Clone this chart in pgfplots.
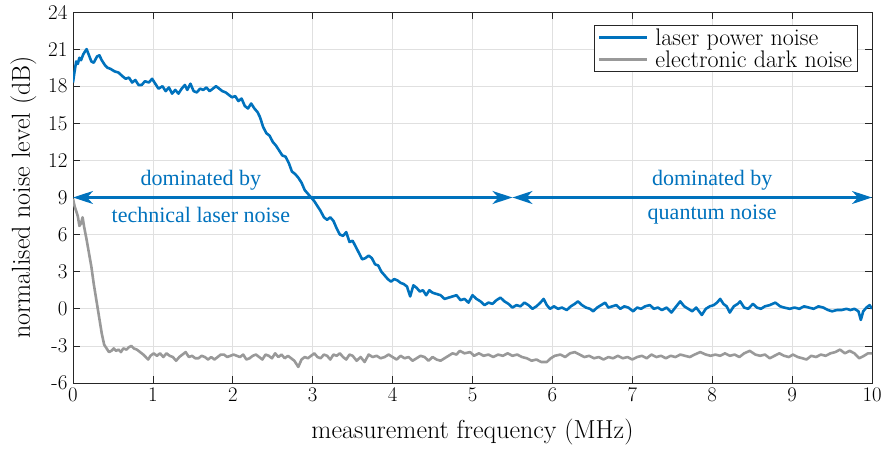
\documentclass[border=0pt]{standalone}
\usepackage{fontspec}
\usepackage{pgfplots}
\pgfplotsset{compat=1.18}
\usetikzlibrary{arrows.meta}
\newfontfamily\annfont{Liberation Serif}
\definecolor{mblue}{RGB}{0,114,189}
\definecolor{mgray}{RGB}{153,153,153}
\definecolor{axgray}{RGB}{38,38,38}
\begin{document}
\begin{tikzpicture}
\begin{axis}[
  scale only axis,
  width=799pt, height=371pt,
  xmin=0, xmax=10, ymin=-6, ymax=24,
  xtick={0,1,...,10},
  ytick={-6,-3,0,3,6,9,12,15,18,21,24},
  yticklabels={-6,-3,0,3,6,9,12,15,18,21,24},
  tick align=inside,
  major tick length=7pt,
  axis line style={axgray, line width=0.8pt},
  every tick/.style={axgray, line width=0.8pt},
  grid=major,
  grid style={black!12, line width=0.8pt},
  tick label style={font=\fontsize{21}{24}\selectfont, text=black},
  xticklabel style={yshift=-2pt},
  yticklabel style={xshift=-2pt},
  xlabel={measurement frequency (MHz)},
  ylabel={normalised noise level (dB)},
  label style={font=\fontsize{26}{30}\selectfont},
  xlabel style={yshift=-10pt},
  ylabel style={yshift=5pt},
  legend style={at={(rel axis cs:0.982,0.965)}, anchor=north east,
    font=\fontsize{24}{27}\selectfont, draw=axgray, line width=0.8pt,
    inner xsep=3pt, inner ysep=1pt, row sep=0pt},
  legend cell align=left,
  legend image code/.code={\draw[#1] (0pt,0pt) -- (48pt,0pt); \path (53pt,0pt);},
]
\addplot[mblue, line width=2.6pt, line join=round] coordinates {
(0.00,18.3)(0.02,19.2)(0.04,20.0)(0.06,19.8)(0.08,20.3)(0.10,20.1)(0.13,20.6)(0.17,21.0)(0.20,20.5)(0.23,20.0)
(0.26,19.9)(0.30,20.4)(0.33,20.5)(0.36,20.1)(0.40,19.7)(0.43,19.5)(0.47,19.4)(0.52,19.2)(0.57,19.1)(0.62,18.8)
(0.66,18.6)(0.70,18.7)(0.74,18.3)(0.78,18.5)(0.82,18.1)(0.86,18.1)(0.90,18.4)(0.95,18.3)(0.99,18.6)(1.03,18.2)
(1.07,17.8)(1.12,18.0)(1.16,17.6)(1.20,17.9)(1.24,17.4)(1.28,17.7)(1.32,17.4)(1.36,17.8)(1.40,18.1)(1.43,17.7)
(1.47,18.2)(1.51,17.6)(1.55,17.5)(1.59,17.8)(1.63,17.7)(1.67,17.9)(1.71,17.6)(1.75,17.8)(1.79,18.0)(1.83,17.8)
(1.87,17.6)(1.91,17.5)(1.95,17.3)(1.99,17.1)(2.03,17.2)(2.07,16.8)(2.11,17.0)(2.15,16.4)(2.19,16.2)(2.23,16.6)
(2.27,16.2)(2.31,15.9)(2.34,15.5)(2.38,14.7)(2.42,14.2)(2.46,14.0)(2.50,13.5)(2.54,13.2)(2.58,12.8)(2.62,12.4)
(2.66,12.3)(2.70,11.8)(2.74,11.1)(2.78,10.9)(2.82,10.6)(2.86,10.2)(2.90,9.6)(2.94,9.3)(2.98,9.0)(3.02,8.7)
(3.06,8.3)(3.10,7.9)(3.14,7.4)(3.18,7.2)(3.22,7.4)(3.26,7.1)(3.30,6.5)(3.34,6.0)(3.38,5.9)(3.42,6.2)
(3.46,5.4)(3.50,5.5)(3.54,5.0)(3.58,4.5)(3.62,4.0)(3.66,4.1)(3.70,4.3)(3.74,4.1)(3.78,3.6)(3.82,3.5)
(3.86,3.0)(3.90,2.7)(3.94,2.4)(3.98,2.2)(4.02,2.4)(4.06,2.3)(4.10,2.1)(4.14,2.0)(4.18,1.8)(4.22,1.0)
(4.26,1.9)(4.30,1.7)(4.34,1.4)(4.38,1.5)(4.42,1.1)(4.46,1.5)(4.50,1.3)(4.55,1.2)(4.60,1.1)(4.65,0.8)
(4.70,0.9)(4.75,1.0)(4.80,1.1)(4.85,0.7)(4.90,0.8)(4.95,0.5)(5.00,1.1)(5.05,0.8)(5.10,0.6)(5.15,0.3)
(5.20,0.5)(5.25,0.4)(5.30,0.7)(5.35,0.9)(5.40,0.6)(5.45,0.4)(5.50,0.1)(5.55,0.3)(5.60,0.2)(5.65,0.5)
(5.70,0.3)(5.75,0.0)(5.80,0.2)(5.85,0.5)(5.89,0.8)(5.93,0.3)(5.97,0.0)(6.02,0.2)(6.07,0.0)(6.12,0.1)
(6.18,-0.1)(6.23,0.2)(6.28,0.4)(6.32,0.6)(6.37,0.3)(6.42,0.1)(6.47,0.0)(6.51,-0.2)(6.56,0.1)(6.61,0.3)
(6.66,0.5)(6.70,0.1)(6.75,0.2)(6.80,0.3)(6.85,0.0)(6.90,0.2)(6.95,0.1)(7.01,-0.2)(7.06,0.1)(7.11,0.0)
(7.16,0.2)(7.22,0.3)(7.27,0.0)(7.32,0.1)(7.37,-0.1)(7.43,0.1)(7.49,-0.3)(7.55,0.2)(7.60,0.6)(7.65,0.2)
(7.70,0.0)(7.75,-0.2)(7.80,0.1)(7.87,-0.5)(7.92,0.0)(7.97,0.2)(8.02,0.3)(8.06,0.5)(8.10,0.8)(8.14,0.4)
(8.18,0.2)(8.22,-0.3)(8.27,0.2)(8.32,0.4)(8.35,0.6)(8.40,0.1)(8.45,0.0)(8.51,0.4)(8.56,0.1)(8.61,0.0)
(8.66,0.2)(8.72,0.3)(8.79,0.5)(8.85,0.2)(8.90,0.1)(8.97,0.0)(9.03,0.1)(9.09,0.0)(9.15,0.2)(9.21,0.1)
(9.27,0.0)(9.33,0.2)(9.39,0.1)(9.45,-0.1)(9.50,-0.2)(9.56,-0.1)(9.62,-0.1)(9.68,0.0)(9.73,-0.1)(9.78,0.0)
(9.83,-0.2)(9.86,-0.9)(9.89,-0.2)(9.93,0.1)(9.97,0.3)(10.00,0.0)
};
\addlegendentry{laser power noise}
\addplot[mgray, line width=2.6pt, line join=round] coordinates {
(0.00,8.9)(0.02,8.3)(0.04,7.9)(0.06,7.5)(0.08,6.7)(0.10,6.9)(0.12,7.4)(0.14,6.6)(0.17,5.6)(0.20,4.5)
(0.23,3.4)(0.26,2.0)(0.30,0.4)(0.33,-0.8)(0.36,-2.0)(0.39,-2.9)(0.42,-3.2)(0.45,-3.5)(0.48,-3.4)(0.51,-3.2)
(0.54,-3.4)(0.57,-3.3)(0.60,-3.5)(0.63,-3.2)(0.67,-3.3)(0.70,-3.1)(0.73,-3.0)(0.76,-3.2)(0.80,-3.3)(0.84,-3.5)
(0.88,-3.7)(0.91,-3.9)(0.94,-4.1)(0.97,-3.8)(1.01,-3.6)(1.05,-3.8)(1.09,-3.6)(1.13,-3.9)(1.17,-3.6)(1.21,-3.8)
(1.25,-3.9)(1.29,-4.2)(1.33,-3.9)(1.37,-3.7)(1.41,-3.5)(1.45,-3.9)(1.49,-3.8)(1.53,-4.0)(1.57,-4.0)(1.61,-3.8)
(1.65,-3.9)(1.69,-4.1)(1.73,-3.9)(1.77,-4.1)(1.81,-3.9)(1.85,-3.7)(1.89,-3.7)(1.93,-3.9)(1.97,-3.8)(2.01,-3.7)
(2.05,-3.8)(2.09,-3.9)(2.13,-3.7)(2.17,-4.1)(2.21,-4.0)(2.25,-3.8)(2.29,-3.7)(2.33,-3.9)(2.37,-4.1)(2.41,-3.7)
(2.45,-3.8)(2.49,-4.0)(2.53,-3.6)(2.57,-3.9)(2.61,-3.7)(2.65,-4.0)(2.69,-3.8)(2.73,-4.0)(2.77,-4.2)(2.82,-4.7)
(2.86,-4.1)(2.90,-3.9)(2.94,-4.0)(2.98,-3.8)(3.02,-3.6)(3.06,-3.9)(3.10,-4.0)(3.14,-3.7)(3.18,-3.8)(3.22,-4.1)
(3.26,-3.7)(3.30,-3.8)(3.34,-3.6)(3.38,-3.9)(3.42,-4.1)(3.46,-3.7)(3.50,-3.8)(3.55,-4.2)(3.60,-3.9)(3.65,-4.3)
(3.70,-3.7)(3.75,-3.9)(3.80,-3.8)(3.85,-4.0)(3.90,-3.9)(3.95,-3.7)(4.00,-3.9)(4.05,-4.1)(4.10,-3.8)(4.15,-4.0)
(4.20,-3.9)(4.25,-4.2)(4.30,-4.0)(4.35,-3.8)(4.40,-3.9)(4.45,-4.2)(4.50,-3.9)(4.55,-4.1)(4.60,-4.2)(4.65,-4.0)
(4.70,-3.8)(4.75,-3.6)(4.80,-3.7)(4.84,-3.4)(4.90,-3.6)(4.97,-3.5)(5.02,-3.8)(5.08,-3.6)(5.14,-3.8)(5.20,-3.7)
(5.26,-3.9)(5.32,-3.7)(5.38,-3.8)(5.44,-3.6)(5.50,-3.8)(5.56,-3.7)(5.62,-3.9)(5.68,-4.0)(5.74,-4.2)(5.80,-4.1)
(5.86,-4.3)(5.93,-4.3)(5.98,-4.0)(6.03,-3.8)(6.10,-3.7)(6.16,-3.9)(6.22,-3.6)(6.28,-3.5)(6.34,-3.7)(6.40,-3.9)
(6.46,-3.8)(6.52,-4.0)(6.58,-3.9)(6.64,-4.1)(6.70,-3.9)(6.76,-4.0)(6.82,-3.8)(6.88,-4.0)(6.94,-3.9)(7.00,-4.1)
(7.06,-3.9)(7.12,-3.8)(7.18,-4.0)(7.24,-3.7)(7.30,-3.9)(7.36,-3.8)(7.42,-4.0)(7.48,-3.8)(7.54,-3.9)(7.60,-3.7)
(7.66,-3.8)(7.72,-3.9)(7.78,-3.7)(7.85,-3.5)(7.92,-3.7)(7.98,-3.8)(8.04,-3.7)(8.10,-3.8)(8.16,-3.6)(8.22,-3.8)
(8.28,-3.7)(8.34,-3.9)(8.40,-3.6)(8.47,-3.4)(8.54,-3.7)(8.60,-3.8)(8.66,-3.7)(8.72,-4.0)(8.78,-3.8)(8.84,-3.6)
(8.90,-3.8)(8.96,-3.9)(9.01,-3.7)(9.07,-3.9)(9.13,-4.0)(9.18,-4.1)(9.24,-3.8)(9.30,-3.9)(9.36,-3.7)(9.42,-3.8)
(9.48,-3.6)(9.54,-3.5)(9.60,-3.3)(9.66,-3.6)(9.72,-3.4)(9.78,-3.6)(9.84,-4.0)(9.90,-3.8)(9.95,-3.6)(10.00,-3.6)
};
\addlegendentry{electronic dark noise}
\draw[mblue, line width=2.4pt, {Stealth[length=20pt,width=13pt,inset=6pt]}-{Stealth[length=20pt,width=13pt,inset=6pt]}]
  (axis cs:0,9) -- (axis cs:5.5,9);
\draw[mblue, line width=2.4pt, {Stealth[length=20pt,width=13pt,inset=6pt]}-{Stealth[length=20pt,width=13pt,inset=6pt]}]
  (axis cs:5.5,9) -- (axis cs:10,9);
\node[text=mblue, font=\annfont\fontsize{22}{26}\selectfont] at (axis cs:1.6,10.4) {dominated by};
\node[text=mblue, font=\annfont\fontsize{22}{26}\selectfont] at (axis cs:1.6,7.6) {technical laser noise};
\node[text=mblue, font=\annfont\fontsize{22}{26}\selectfont] at (axis cs:8.0,10.4) {dominated by};
\node[text=mblue, font=\annfont\fontsize{22}{26}\selectfont] at (axis cs:8.0,7.6) {quantum noise};
\end{axis}
\pgfresetboundingbox
\path (current axis.south west) ++(-73pt,-65pt) coordinate (bbA);
\path (current axis.north east) ++(10pt,12pt) coordinate (bbB);
\path[use as bounding box] (bbA) rectangle (bbB);
\end{tikzpicture}
\end{document}
